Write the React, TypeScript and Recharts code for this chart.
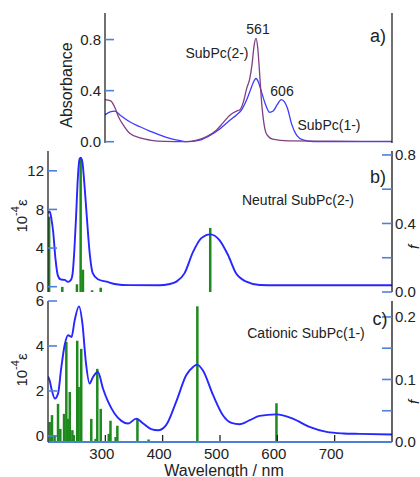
import React from 'react';
import { ComposedChart, Line, Bar, XAxis, YAxis } from 'recharts';

const FONT = '"Liberation Sans", Arial, Helvetica, sans-serif';
const INK = '#222';
const FRAME_BLUE = '#4d80d8';
const CURVE_BLUE = '#2626ff';
const PURPLE = '#7f3f82';
const STICK_GREEN = '#1e8a1e';

// a) measured absorbance, SubPc(2-) and SubPc(1-)
const absNm2 = [300, 310, 317, 323, 332, 343, 361, 378, 405, 440, 460, 477, 494, 506, 518, 529, 535, 541, 547, 552, 556, 560, 563, 566, 569, 573, 577, 582, 592, 620, 700, 800];
const absSubPc2 = [0.33, 0.32, 0.27, 0.2, 0.13, 0.066, 0.03, 0.013, 0.002, 0, 0.012, 0.04, 0.09, 0.15, 0.21, 0.24, 0.25, 0.31, 0.42, 0.49, 0.6, 0.76, 0.81, 0.74, 0.56, 0.3, 0.14, 0.055, 0.02, 0.007, 0.004, 0.003];
const absNm1 = [300, 309, 317, 326, 343, 361, 378, 396, 413, 431, 443, 465, 483, 500, 518, 529, 538, 547, 553, 558, 563, 567, 572, 579, 587, 593, 600, 607, 613, 618, 625, 634, 645, 663, 800];
const absSubPc1 = [0.21, 0.234, 0.24, 0.21, 0.156, 0.117, 0.083, 0.052, 0.026, 0.008, 0, 0.013, 0.05, 0.1, 0.17, 0.21, 0.25, 0.33, 0.4, 0.46, 0.495, 0.47, 0.4, 0.3, 0.23, 0.24, 0.29, 0.33, 0.31, 0.26, 0.14, 0.05, 0.014, 0, 0];

// b) neutral SubPc(2-), computed spectrum + oscillator strengths
const neutralNm = [200, 203, 206, 209, 213, 217, 222, 229, 235, 240, 243, 246, 249, 252, 255, 257, 260, 263, 267, 273, 278, 287, 302, 319, 340, 395, 410, 424, 438, 453, 467, 483, 499, 514, 528, 546, 569, 600, 800];
const neutralEps = [7.6, 7.8, 7.0, 5.7, 2.9, 1.2, 0.75, 0.7, 0.5, 0.7, 1.4, 3.8, 7.3, 11.2, 13.2, 13.35, 12.9, 11.0, 7.8, 3.3, 1.4, 0.77, 0.52, 0.25, 0.16, 0.15, 0.25, 0.52, 1.38, 3.6, 5.0, 5.42, 4.83, 3.28, 1.38, 0.52, 0.18, 0.15, 0.15];
const neutralStickNm = [202, 225, 250.5, 257, 261, 277, 292, 483];
const neutralStickF = [0.44, 0.03, 0.045, 0.78, 0.13, 0.01, 0.025, 0.374];

// c) cationic SubPc(1-)
const cationNm = [200, 203, 206, 212, 217.5, 223, 229, 235, 241, 246.5, 254, 260, 266, 272.5, 278.5, 287, 296, 305, 316, 328, 339.5, 354, 366, 380, 392, 406, 424, 441, 453, 460, 470, 488, 505, 520, 534, 552, 569, 598, 627, 656, 686, 715, 744, 800];
const cationEps = [2.65, 2.45, 2.1, 1.66, 1.88, 3.0, 4.03, 4.48, 4.4, 5.14, 5.76, 5.0, 3.29, 2.33, 2.62, 2.84, 2.1, 1.51, 1.0, 0.67, 0.55, 0.77, 0.55, 0.3, 0.25, 0.48, 1.55, 2.7, 3.07, 3.17, 2.92, 1.81, 0.92, 0.58, 0.52, 0.7, 0.89, 0.96, 0.77, 0.4, 0.18, 0.11, 0.09, 0.06];
const cationStickNm = [203, 207, 211.5, 217.5, 221.5, 228, 232, 235, 238, 242.5, 245, 251, 253.5, 258, 275.5, 283, 286, 292, 306, 309, 318, 321, 356, 375.5, 460.5, 598.5];
const cationStickF = [0.032, 0.043, 0.011, 0.061, 0.021, 0.045, 0.16, 0.037, 0.08, 0.019, 0.011, 0.162, 0.088, 0.149, 0.037, 0.005, 0.117, 0.053, 0.013, 0.034, 0.008, 0.026, 0.037, 0.004, 0.217, 0.062];

const wavelengthTicks = [300, 400, 500, 600, 700];
const topMinorTicks = [300, 320, 340, 360, 380, 400, 420, 440, 460, 480, 500, 520, 540, 560, 580, 600, 620, 640, 660, 680, 700, 720, 740, 760, 780, 800];

const zip = (xs: number[], ys: number[], key: string) => xs.map((nm, i) => ({ nm, [key]: ys[i] }));

const absRows2 = zip(absNm2, absSubPc2, 'a');
const absRows1 = zip(absNm1, absSubPc1, 'a');
const neutralRows = zip(neutralNm, neutralEps, 'eps');
const neutralSticks = zip(neutralStickNm, neutralStickF, 'f');
const cationRows = zip(cationNm, cationEps, 'eps');
const cationSticks = zip(cationStickNm, cationStickF, 'f');

// custom ticks: blue marks pointing into the frame, labels outside
const leftTick = (fmt: (v: number) => string) => (props: any) => {
  const { x, y, payload } = props;
  return (
    <g>
      <line x1={x} x2={x + 9} y1={y} y2={y} stroke={FRAME_BLUE} strokeWidth={1.6} />
      <text x={x - 4} y={y + 5.4} textAnchor="end" fontSize={15} fontFamily={FONT} fill={INK}>
        {fmt(payload.value)}
      </text>
    </g>
  );
};

const rightTick = (labelled: number[]) => (props: any) => {
  const { x, y, payload } = props;
  const show = labelled.some(v => Math.abs(v - payload.value) < 1e-9);
  return (
    <g>
      <line x1={x - 10} x2={x} y1={y} y2={y} stroke={FRAME_BLUE} strokeWidth={1.6} />
      {show && (
        <text x={x + 3} y={y + 5.4} textAnchor="start" fontSize={15} fontFamily={FONT} fill={INK}>
          {payload.value.toFixed(1)}
        </text>
      )}
    </g>
  );
};

const bottomTick = (withLabel: boolean) => (props: any) => {
  const { x, y, payload } = props;
  return (
    <g>
      <line x1={x} x2={x} y1={y - 1} y2={y - 7} stroke="#111" strokeWidth={1.2} />
      {withLabel && (
        <text x={x - 3.5} y={y + 16.5} textAnchor="middle" fontSize={15} fontFamily={FONT} fill={INK}>
          {payload.value}
        </text>
      )}
    </g>
  );
};

const topTick = (props: any) => {
  const { x, y, payload } = props;
  const major = payload.value % 100 === 0;
  return <line x1={x} x2={x} y1={y} y2={y + (major ? 6 : 3.5)} stroke="#111" strokeWidth={1} />;
};

const downTick = (props: any) => {
  const { x, y } = props;
  return <line x1={x} x2={x} y1={y} y2={y + 14} stroke="#111" strokeWidth={1.2} />;
};

const stickShape = (props: any) => {
  const { x, y, width, height } = props;
  if (height == null || height <= 0) return <g />;
  return <rect x={x + width / 2 - 1.25} y={y} width={2.5} height={height} fill={STICK_GREEN} />;
};

const AbsorbancePanel = () => (
  <ComposedChart width={420} height={160} data={absRows2} margin={{ top: 13, right: 0, bottom: 17, left: 0 }}>
    <XAxis xAxisId="top" orientation="top" type="number" dataKey="nm" domain={[300, 800]} allowDataOverflow
      height={0} ticks={topMinorTicks} interval={0} tickSize={0} tickMargin={0} tickLine={false}
      tick={topTick} axisLine={{ stroke: '#111', strokeWidth: 1.2 }} />
    <XAxis xAxisId="bot" orientation="bottom" type="number" dataKey="nm" domain={[300, 800]} allowDataOverflow
      height={0} ticks={[300]} interval={0} tickSize={0} tickMargin={0} tickLine={false}
      tick={downTick} axisLine={false} />
    <YAxis yAxisId="l" type="number" domain={[-0.01, 1.008]} allowDataOverflow width={105}
      ticks={[0, 0.4, 0.8]} interval={0} tickSize={0} tickMargin={0} tickLine={false}
      tick={leftTick(v => v.toFixed(1))} axisLine={{ stroke: '#111', strokeWidth: 1.2 }} />
    <YAxis yAxisId="r" orientation="right" type="number" domain={[0, 1]} width={28}
      tick={false} tickLine={false} axisLine={{ stroke: '#111', strokeWidth: 1.2 }} />
    <Line xAxisId="top" yAxisId="l" data={absRows1} dataKey="a" type="monotone" stroke="#3c3cff"
      strokeWidth={1.3} dot={false} isAnimationActive={false} />
    <Line xAxisId="top" yAxisId="l" dataKey="a" type="monotone" stroke={PURPLE}
      strokeWidth={1.3} dot={false} isAnimationActive={false} />
  </ComposedChart>
);

const TheoryPanel = ({ rows, sticks, epsDomain, epsTicks, fDomain, fTicks, fLabelled, height, bottom, xHeight, labels }: any) => (
  <ComposedChart width={420} height={height} data={sticks} margin={{ top: 8, right: 0, bottom, left: 0 }}>
    <XAxis xAxisId="top" orientation="top" type="number" dataKey="nm" domain={[200, 800]} allowDataOverflow
      height={0} tick={false} tickLine={false} axisLine={{ stroke: FRAME_BLUE, strokeWidth: 1.8 }} />
    <XAxis xAxisId="x" type="number" dataKey="nm" domain={[200, 800]} allowDataOverflow
      height={xHeight} ticks={wavelengthTicks} interval={0} tickSize={0} tickMargin={0} tickLine={false}
      tick={bottomTick(labels)} axisLine={{ stroke: FRAME_BLUE, strokeWidth: 1.8 }} />
    <YAxis yAxisId="l" type="number" domain={epsDomain} allowDataOverflow width={48}
      ticks={epsTicks} interval={0} tickSize={0} tickMargin={0} tickLine={false}
      tick={leftTick(v => String(v))} axisLine={{ stroke: '#222', strokeWidth: 1.3 }} />
    <YAxis yAxisId="r" orientation="right" type="number" domain={fDomain} allowDataOverflow width={28}
      ticks={fTicks} interval={0} tickSize={0} tickMargin={0} tickLine={false}
      tick={rightTick(fLabelled)} axisLine={{ stroke: '#111', strokeWidth: 1.3 }} />
    <Line xAxisId="x" yAxisId="l" data={rows} dataKey="eps" type="monotone" stroke={CURVE_BLUE}
      strokeWidth={1.9} dot={false} isAnimationActive={false} />
    <Bar xAxisId="x" yAxisId="r" dataKey="f" barSize={2.5} shape={stickShape} isAnimationActive={false} />
  </ComposedChart>
);

export default function App() {
  return (
    <div style={{ position: 'absolute', left: 0, top: 0, width: 420, height: 477, background: '#fff' }}>
      <div style={{ position: 'absolute', left: 0, top: 0 }}>
        <AbsorbancePanel />
      </div>
      <div style={{ position: 'absolute', left: 0, top: 143 }}>
        <TheoryPanel rows={neutralRows} sticks={neutralSticks} epsDomain={[-0.55, 14.05]} epsTicks={[0, 4, 8, 12]}
          fDomain={[0, 0.823]} fTicks={[0, 0.2, 0.4, 0.6, 0.8]} fLabelled={[0, 0.4, 0.8]}
          height={160} bottom={11} xHeight={0} labels={false} />
      </div>
      <div style={{ position: 'absolute', left: 0, top: 293 }}>
        <TheoryPanel rows={cationRows} sticks={cationSticks} epsDomain={[-0.27, 6]} epsTicks={[0, 2, 4, 6]}
          fDomain={[0, 0.2255]} fTicks={[0, 0.05, 0.1, 0.15, 0.2]} fLabelled={[0, 0.1, 0.2]}
          height={184} bottom={0} xHeight={35} labels={true} />
      </div>
      <svg width={420} height={477} style={{ position: 'absolute', left: 0, top: 0, pointerEvents: 'none' }}
        fontFamily={FONT} fill={INK}>
        <text x={66} y={85} transform="rotate(-90 66 85)" textAnchor="middle" dominantBaseline="central" fontSize={16}>Absorbance</text>
        <text x={258} y={29} textAnchor="middle" dominantBaseline="central" fontSize={14}>561</text>
        <text x={217} y={53} textAnchor="middle" dominantBaseline="central" fontSize={14}>SubPc(2-)</text>
        <text x={282} y={91} textAnchor="middle" dominantBaseline="central" fontSize={14}>606</text>
        <text x={329} y={125} textAnchor="middle" dominantBaseline="central" fontSize={14}>SubPc(1-)</text>
        <text x={378} y={36} textAnchor="middle" dominantBaseline="central" fontSize={18}>a)</text>

        <text x={298} y={200} textAnchor="middle" dominantBaseline="central" fontSize={14}>Neutral SubPc(2-)</text>
        <text x={378} y={177} textAnchor="middle" dominantBaseline="central" fontSize={18}>b)</text>
        <text x={306} y={333} textAnchor="middle" dominantBaseline="central" fontSize={14}>Cationic SubPc(1-)</text>
        <text x={380} y={319} textAnchor="middle" dominantBaseline="central" fontSize={18}>c)</text>

        <text x={21} y={216} transform="rotate(-90 21 216)" textAnchor="middle" dominantBaseline="central" fontSize={15}>
          10<tspan dy={-6} fontSize={11}>-4</tspan><tspan dy={6}>ε</tspan>
        </text>
        <text x={21} y={370} transform="rotate(-90 21 370)" textAnchor="middle" dominantBaseline="central" fontSize={15}>
          10<tspan dy={-6} fontSize={11}>-4</tspan><tspan dy={6}>ε</tspan>
        </text>
        <text x={413} y={247} transform="rotate(-90 413 247)" textAnchor="middle" dominantBaseline="central" fontSize={15} fontStyle="italic">f</text>
        <text x={413} y={402} transform="rotate(-90 413 402)" textAnchor="middle" dominantBaseline="central" fontSize={15} fontStyle="italic">f</text>

        <text x={224} y={470} textAnchor="middle" dominantBaseline="central" fontSize={16}>Wavelength / nm</text>
      </svg>
    </div>
  );
}
